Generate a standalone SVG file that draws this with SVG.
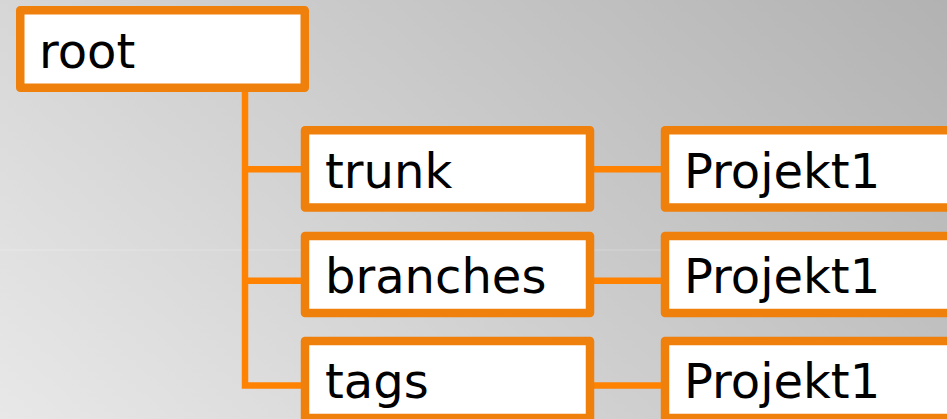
<svg xmlns="http://www.w3.org/2000/svg" width="947" height="419" viewBox="0 0 947 419">
<defs>
<linearGradient id="bg" gradientUnits="userSpaceOnUse" x1="947" y1="0" x2="308" y2="700">
<stop offset="0" stop-color="#B2B2B2"/>
<stop offset="1" stop-color="#E8E8E8"/>
</linearGradient>
<style>
.box{fill:#FFFFFF;stroke:#F0800C;stroke-width:8.5;stroke-linejoin:round}
.lbl{font-family:"DejaVu Sans","Verdana",sans-serif;font-size:48px;fill:#000000}
.con{fill:none;stroke:#FF8200;stroke-width:6.5}
</style>
</defs>
<rect x="0" y="0" width="947" height="419" fill="url(#bg)"/>
<rect x="0" y="249.5" width="947" height="1" fill="#FFFFFF" opacity="0.25"/>
<g id="connectors">
<path class="con" d="M245 92 V385.5 H305"/>
<path class="con" d="M245 169.3 H305"/>
<path class="con" d="M245 280.7 H305"/>
<path class="con" d="M590 169.3 H665"/>
<path class="con" d="M590 280.7 H665"/>
<path class="con" d="M590 385.5 H665"/>
</g>
<g id="root">
<rect class="box" x="20.25" y="10.25" width="284.5" height="77.5"/>
<text class="lbl" x="39" y="67.5">root</text>
</g>
<g id="trunk">
<rect class="box" x="305" y="130.25" width="285" height="77.2"/>
<text class="lbl" x="325" y="187.5">trunk</text>
</g>
<g id="branches">
<rect class="box" x="305" y="236" width="285" height="77"/>
<text class="lbl" x="325" y="293">branches</text>
</g>
<g id="tags">
<rect class="box" x="305" y="341" width="285" height="77"/>
<text class="lbl" x="325" y="398">tags</text>
</g>
<g id="projekt1-trunk">
<rect class="box" x="665" y="130.25" width="300" height="77.2"/>
<text class="lbl" x="684" y="187.5">Projekt1</text>
</g>
<g id="projekt1-branches">
<rect class="box" x="665" y="236" width="300" height="77"/>
<text class="lbl" x="684" y="293">Projekt1</text>
</g>
<g id="projekt1-tags">
<rect class="box" x="665" y="341" width="300" height="77"/>
<text class="lbl" x="684" y="398">Projekt1</text>
</g>
</svg>
